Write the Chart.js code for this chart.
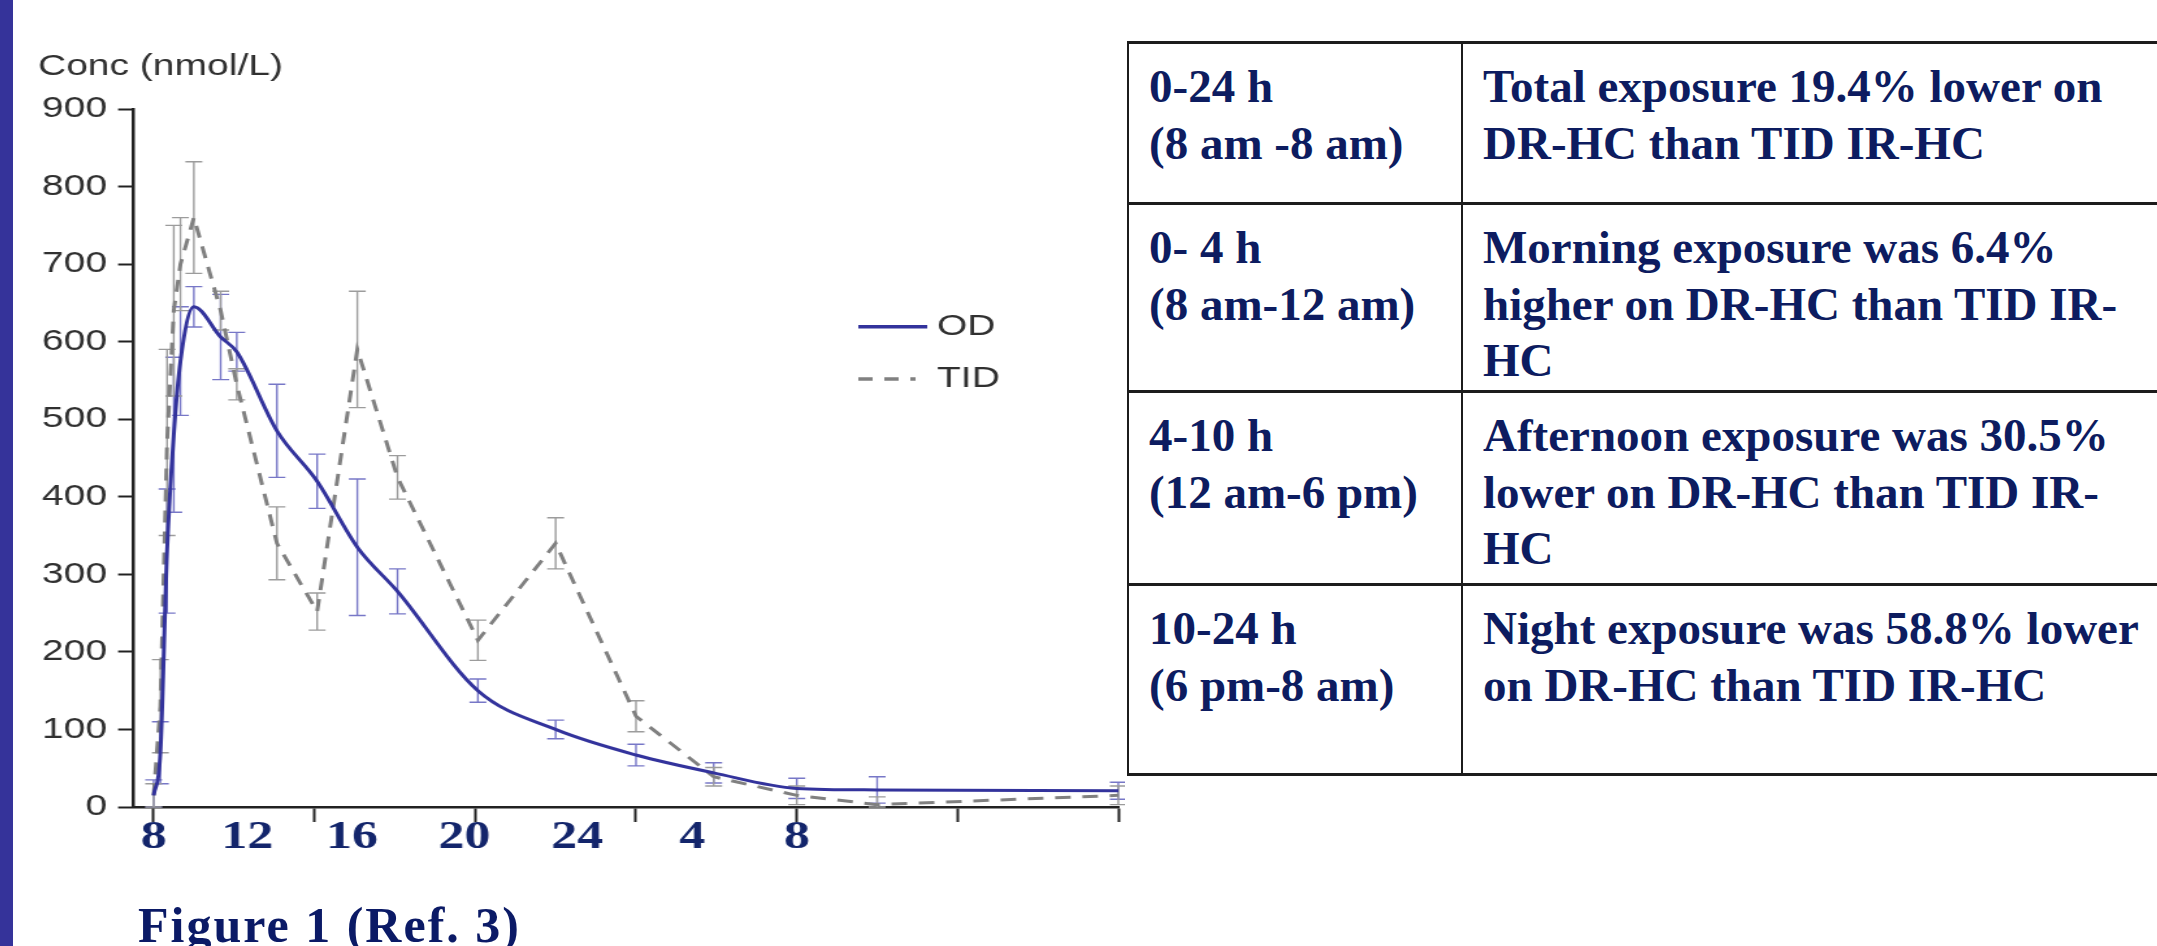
<!DOCTYPE html>
<html>
<head>
<meta charset="utf-8">
<script src="https://cdn.jsdelivr.net/npm/chart.js@4.4.0/dist/chart.umd.min.js"></script>
<style>
  html, body { margin: 0; padding: 0; background: #fff; }
  body { width: 2157px; height: 946px; overflow: hidden; position: relative; }
  #sidebar { position: absolute; left: 0; top: 0; width: 13px; height: 946px; background: #35339a; }
  /* the source figure is stretched sideways, so the canvas is too */
  #chart2 { position: absolute; left: 38px; top: 0; transform: scaleX(1.3); transform-origin: 0 0; }
  #caption { position: absolute; left: 138px; top: 900px; font: bold 50px "Liberation Serif", serif; line-height: 1; letter-spacing: 2px; color: #0b1a66; }
  #tbl { position: absolute; left: 1127px; top: 41px; width: 1100px; table-layout: fixed; border-collapse: collapse; font-family: "Liberation Serif", serif; font-weight: bold; font-size: 47px; line-height: 56.7px; color: #0d1c60; }
  #tbl td { border-top: 3px solid #1c1c1c; border-bottom: 3px solid #1c1c1c; border-left: 2px solid #1c1c1c; border-right: 2px solid #1c1c1c; vertical-align: top; padding: 14px 0 0 20px; white-space: nowrap; }
</style>
</head>
<body>
<div id="sidebar"></div>
<canvas id="chart2" width="836" height="880"></canvas>
<div id="caption">Figure 1 (Ref. 3)</div>
<table id="tbl">
  <colgroup><col style="width:334px"><col style="width:766px"></colgroup>
  <tr style="height:161px"><td>0-24 h<br>(8 am -8 am)</td><td>Total exposure 19.4% lower on<br>DR-HC than TID IR-HC</td></tr>
  <tr style="height:188px"><td>0- 4 h<br>(8 am-12 am)</td><td>Morning exposure was 6.4%<br>higher on DR-HC than TID IR-<br>HC</td></tr>
  <tr style="height:193px"><td>4-10 h<br>(12 am-6 pm)</td><td>Afternoon exposure was 30.5%<br>lower on DR-HC than TID IR-<br>HC</td></tr>
  <tr style="height:190px"><td>10-24 h<br>(6 pm-8 am)</td><td>Night exposure was 58.8% lower<br>on DR-HC than TID IR-HC</td></tr>
</table>

<script>
// hours after the 8 am dose
const hours = [0, 0.25, 0.5, 0.75, 1, 1.5, 2.5, 3.1, 4.6, 6.1, 7.6, 9.1, 12.1, 15, 18, 20.9, 24, 27, 36];

// once daily (DR-HC)
const odConc = [15, 70, 330, 480, 575, 645, 606, 587, 485, 420, 335, 278, 150, 100, 67, 44, 24, 22, 21];
const odSD   = [20, 40, 80, 100, 70, 26, 55, 25, 60, 35, 88, 29, 15, 12, 14, 13, 13, 17, 11];

// three times daily (IR-HC)
const tidConc = [15, 130, 470, 640, 700, 760, 640, 545, 340, 252, 590, 425, 215, 340, 117, 39, 15, 3, 15];
const tidSD   = [15, 60, 120, 110, 60, 72, 25, 20, 47, 24, 75, 28, 26, 33, 20, 12, 12, 10, 12];

// clock-time labels (placed by hand in the source) and the axis tick marks
const xTickHours  = [0, 3.5, 7.4, 11.6, 15.8, 20.1, 24];
const xTickLabels = ['8', '12', '16', '20', '24', '4', '8'];
const xMarkHours  = [0, 6, 12, 18, 24, 30, 36];
const yTickValues = [0, 100, 200, 300, 400, 500, 600, 700, 800, 900];

const navy = '#13256b';
const axisInk = '#222';
const labelInk = '#303030';

// vertical error bars, drawn under the lines
const errorBars = {
  id: 'errorBars',
  beforeDatasetsDraw(chart) {
    const ctx = chart.ctx;
    const xs = chart.scales.x, ys = chart.scales.y;
    chart.data.datasets.forEach((ds) => {
      if (!ds.errors) return;
      ctx.save();
      ctx.strokeStyle = ds.errorColor;
      ctx.lineWidth = 1.4;
      ds.data.forEach((pt, j) => {
        const e = ds.errors[j];
        const px = xs.getPixelForValue(pt.x);
        const top = ys.getPixelForValue(pt.y + e);
        const bot = ys.getPixelForValue(Math.max(pt.y - e, 0));
        ctx.beginPath();
        ctx.moveTo(px, top); ctx.lineTo(px, bot);
        ctx.moveTo(px - 6.5, top); ctx.lineTo(px + 6.5, top);
        ctx.moveTo(px - 6.5, bot); ctx.lineTo(px + 6.5, bot);
        ctx.stroke();
      });
      ctx.restore();
    });
  }
};

// the small key to the right of the curves
const sideLegend = {
  id: 'sideLegend',
  afterDraw(chart) {
    const ctx = chart.ctx;
    const rows = [326.7, 379];
    chart.data.datasets.forEach((ds, i) => {
      const y = rows[i];
      ctx.save();
      ctx.strokeStyle = ds.borderColor;
      ctx.lineWidth = 3.5;
      ctx.setLineDash(i === 1 ? [11, 9, 11, 9, 4, 9] : []);
      ctx.beginPath();
      ctx.moveTo(631, y); ctx.lineTo(684, y);
      ctx.stroke();
      ctx.setLineDash([]);
      ctx.fillStyle = labelInk;
      ctx.font = '30px "Liberation Sans"';
      ctx.textBaseline = 'middle';
      ctx.fillText(ds.label, 691.5, y);
      ctx.restore();
    });
  }
};

const ctx = document.getElementById('chart2').getContext('2d');
const myChart = new Chart(ctx, {
  type: 'line',
  data: {
    datasets: [
      {
        label: 'OD',
        data: hours.map((h, i) => ({ x: h, y: odConc[i] })),
        borderColor: '#33339c',
        borderWidth: 3,
        pointRadius: 0,
        cubicInterpolationMode: 'monotone',
        errors: odSD,
        errorColor: 'rgba(85, 85, 185, 0.8)'
      },
      {
        label: 'TID',
        data: hours.map((h, i) => ({ x: h, y: tidConc[i] })),
        borderColor: '#808080',
        borderWidth: 3,
        borderDash: [12, 9],
        pointRadius: 0,
        tension: 0,
        errors: tidSD,
        errorColor: '#9c9c9c'
      }
    ]
  },
  options: {
    responsive: false,
    animation: false,
    layout: { padding: { left: 0, right: 5, top: 0, bottom: 0 } },
    plugins: {
      legend: { display: false },
      tooltip: { enabled: false },
      title: {
        display: true,
        text: 'Conc (nmol/L)',
        align: 'start',
        color: labelInk,
        font: { family: 'Liberation Sans', size: 30, weight: 'normal' },
        padding: { top: 49, bottom: 24 }
      }
    },
    scales: {
      x: {
        type: 'linear',
        min: -0.77,
        max: 36,
        afterBuildTicks: (scale) => {
          const vals = Array.from(new Set(xTickHours.concat(xMarkHours))).sort((a, b) => a - b);
          scale.ticks = vals.map(v => ({ value: v }));
        },
        afterFit: (scale) => { scale.height = 73; },
        grid: {
          drawOnChartArea: false,
          tickLength: 15,
          tickWidth: 2,
          tickColor: (c) => (c.tick && xMarkHours.includes(c.tick.value)) ? axisInk : 'rgba(0,0,0,0)'
        },
        border: { color: axisInk, width: 2.5 },
        ticks: {
          autoSkip: false,
          maxRotation: 0,
          padding: -8,
          color: navy,
          font: { family: 'Liberation Serif', size: 40, weight: 'bold' },
          callback: (value) => {
            const i = xTickHours.indexOf(value);
            return i >= 0 ? xTickLabels[i] : '';
          }
        }
      },
      y: {
        min: 0,
        max: 900,
        afterBuildTicks: (scale) => { scale.ticks = yTickValues.map(v => ({ value: v })); },
        afterFit: (scale) => { scale.width = 73.1; },
        grid: { drawOnChartArea: false, tickLength: 11.5, tickWidth: 2, tickColor: axisInk },
        border: { color: axisInk, width: 2.5 },
        ticks: {
          padding: 8.5,
          color: labelInk,
          font: { family: 'Liberation Sans', size: 30 }
        }
      }
    }
  },
  plugins: [errorBars, sideLegend]
});
</script>
</body>
</html>
